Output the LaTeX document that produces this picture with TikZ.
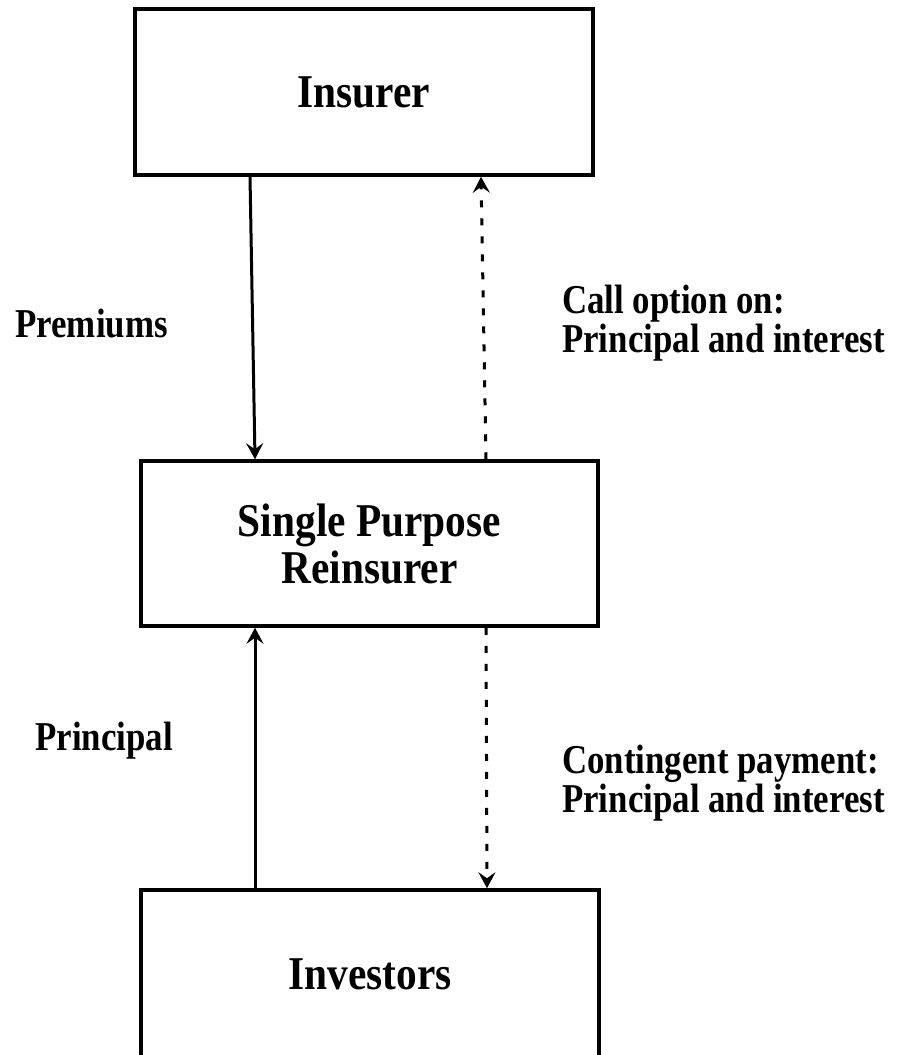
\documentclass[tikz,border=0pt]{standalone}
\usepackage{fontspec}
\setmainfont{Liberation Serif}
\newfontfamily\boxfont{Liberation Serif}[FakeStretch=0.88]
\newfontfamily\labelfont{Liberation Serif}[FakeStretch=0.85]
\usepackage{tikz}
\usetikzlibrary{arrows.meta}
\tikzset{party/.style={draw, line width=3.5pt, minimum width=458pt,
  minimum height=166pt, inner sep=0pt, align=center,
  font=\boxfont\bfseries\fontsize{47}{47}\selectfont}}
\tikzset{flowlabel/.style={inner sep=0pt, align=left,
  font=\labelfont\bfseries\fontsize{41}{39}\selectfont}}
\tikzset{cash/.style={line width=3pt, -{Stealth[length=16pt,width=17pt,inset=6pt]}}}
\tikzset{option/.style={cash, dash pattern=on 7pt off 11pt}}

\begin{document}
\begin{tikzpicture}[x=1pt, y=-1pt]
      \useasboundingbox (0,0) rectangle (906,1055);

      \node [party] (insurer) at (364,92) {Insurer};
      \node [party, minimum width=457pt, minimum height=165pt] (spr) at (369.5,543.5) {Single Purpose\\Reinsurer};
      \node [party, minimum height=168pt] (investors) at (370,974) {Investors};

      \draw [cash] ([xshift=-114pt]insurer.south) -- ([xshift=-114.5pt]spr.north);
      \draw [option] ([xshift=116.5pt]spr.north) -- ([xshift=117pt]insurer.south);
      \draw [cash] ([xshift=-115pt]investors.north) -- ([xshift=-114.5pt]spr.south);
      \draw [option] ([xshift=116.5pt]spr.south) -- ([xshift=117pt]investors.north);

      \node [flowlabel, anchor=base] (premiums) at (91.5,337) {Premiums};
      \node [flowlabel, anchor=west] (calloption) at (562,323) {Call option on:\\Principal and interest};
      \node [flowlabel, anchor=base] (principal) at (104,750) {Principal};
      \node [flowlabel, anchor=west] (contingent) at (562,783) {Contingent payment:\\Principal and interest};
\end{tikzpicture}
\end{document}
